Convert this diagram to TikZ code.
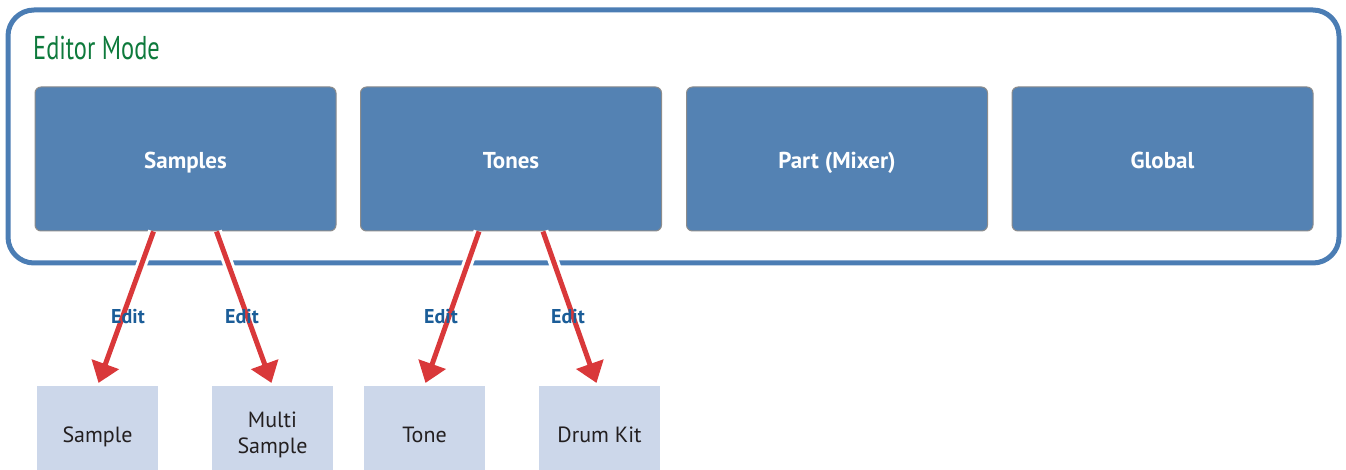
\documentclass[tikz,border=0pt]{standalone}
\usepackage{fontspec}
\setmainfont{PT Sans}
\newfontfamily\titlefont[FakeStretch=0.74]{PT Sans}
\usetikzlibrary{arrows.meta}
\definecolor{framec}{HTML}{4B7DB4}
\definecolor{boxc}{HTML}{5482B3}
\definecolor{lightc}{HTML}{CCD7EA}
\definecolor{arrowc}{HTML}{D9383A}
\definecolor{editc}{HTML}{1B5D98}
\definecolor{titlec}{HTML}{0E7A3C}
\definecolor{textc}{HTML}{231F20}
\tikzset{
  modebox/.style={draw=gray!90, line width=1pt, fill=boxc, rounded corners=6pt,
    minimum width=301pt, minimum height=144pt, inner sep=0pt},
  modetext/.style={anchor=base, inner sep=0pt, text=white, font=\fontsize{23}{26}\selectfont\bfseries},
  leafbox/.style={fill=lightc, minimum width=121pt, minimum height=84pt, inner sep=0pt},
  leaftext/.style={anchor=base, inner sep=0pt, text=textc, font=\fontsize{22}{26}\selectfont},
  editarrow/.style={draw=arrowc, line width=5pt,
    -{Triangle[length=20pt,width=28pt]}, shorten >=3pt},
  halo/.style={draw=white, line width=11pt, shorten >=25pt},
  editlabel/.style={text=editc, font=\fontsize{20}{22}\selectfont\bfseries, inner sep=0pt}
}
\begin{document}
\begin{tikzpicture}[x=1pt,y=-1pt]
\useasboundingbox (0,0) rectangle (1346,470);
% frame
\draw[framec, line width=5pt, rounded corners=26pt] (8,10) rectangle (1339,263);
\node[anchor=base west, inner sep=0pt, text=titlec, font=\titlefont\fontsize{33}{36}\selectfont] (title) at (33,60) {Editor Mode};
% mode boxes
\node[modebox] (samples) at (185.5,159) {};
\node[modebox] (tones) at (511,159) {};
\node[modebox] (part) at (837,159) {};
\node[modebox] (global) at (1162.5,159) {};
\node[modetext] (samplesT) at ([yshift=-10pt]samples.center) {Samples};
\node[modetext] (tonesT) at ([yshift=-10pt]tones.center) {Tones};
\node[modetext] (partT) at ([yshift=-10pt]part.center) {Part (Mixer)};
\node[modetext] (globalT) at ([yshift=-10pt]global.center) {Global};
% leaf boxes
\node[leafbox] (sample) at (97.5,428) {};
\node[leafbox] (multi) at (272.5,428) {};
\node[leafbox] (tone) at (424.5,428) {};
\node[leafbox] (drum) at (599.5,428) {};
\node[leaftext] (sampleT) at ([yshift=-14pt]sample.center) {Sample};
\node[leaftext] (multiT1) at ([yshift=1pt]multi.center) {Multi};
\node[leaftext] (multiT2) at ([yshift=-25pt]multi.center) {Sample};
\node[leaftext] (toneT) at ([yshift=-14pt]tone.center) {Tone};
\node[leaftext] (drumT) at ([yshift=-14pt]drum.center) {Drum Kit};
% halos
\draw[halo] ([xshift=-32pt]samples.south) -- (sample.north);
\draw[halo] ([xshift=31pt]samples.south) -- (multi.north);
\draw[halo] ([xshift=-32pt]tones.south) -- (tone.north);
\draw[halo] ([xshift=32pt]tones.south) -- ([xshift=-2pt]drum.north);
% arrows
\draw[editarrow] ([xshift=-32pt]samples.south) -- (sample.north);
\draw[editarrow] ([xshift=31pt]samples.south) -- (multi.north);
\draw[editarrow] ([xshift=-32pt]tones.south) -- (tone.north);
\draw[editarrow] ([xshift=32pt]tones.south) -- ([xshift=-2pt]drum.north);
% labels
\node[editlabel] (e1) at (128,317) {Edit};
\node[editlabel] (e2) at (242,317) {Edit};
\node[editlabel] (e3) at (441,317) {Edit};
\node[editlabel] (e4) at (568,317) {Edit};
\end{tikzpicture}
\end{document}
